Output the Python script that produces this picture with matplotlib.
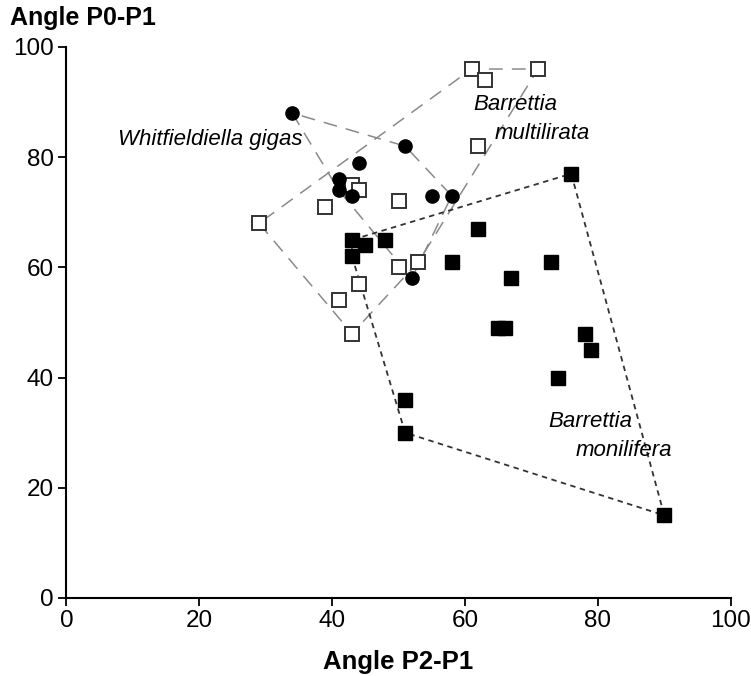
import numpy as np
import matplotlib.pyplot as plt

plt.rcParams['font.family'] = ['Liberation Sans', 'DejaVu Sans']

# Whitfieldiella gigas (filled circles)
gigas_x = [34, 51, 44, 41, 41, 43, 55, 58, 52]
gigas_y = [88, 82, 79, 76, 74, 73, 73, 73, 58]

# Barrettia multilirata (open squares)
multi_x = [61, 63, 71, 62, 43, 44, 50, 39, 29, 50, 53, 44, 41, 43]
multi_y = [96, 94, 96, 82, 75, 74, 72, 71, 68, 60, 61, 57, 54, 48]

# Barrettia monilifera (filled squares)
moni_x = [76, 62, 43, 45, 48, 43, 58, 67, 73, 65, 66, 78, 79, 74, 51, 51, 90]
moni_y = [77, 67, 65, 64, 65, 62, 61, 58, 61, 49, 49, 48, 45, 40, 36, 30, 15]

ticks = [0, 20, 40, 60, 80, 100]


def hull(xs, ys):
    # monotone chain convex hull, returned closed
    pts = sorted(set(zip(xs, ys)))

    def cross(o, a, b):
        return (a[0] - o[0]) * (b[1] - o[1]) - (a[1] - o[1]) * (b[0] - o[0])

    lower, upper = [], []
    for p in pts:
        while len(lower) >= 2 and cross(lower[-2], lower[-1], p) <= 0:
            lower.pop()
        lower.append(p)
    for p in reversed(pts):
        while len(upper) >= 2 and cross(upper[-2], upper[-1], p) <= 0:
            upper.pop()
        upper.append(p)
    h = lower[:-1] + upper[:-1]
    h.append(h[0])
    return np.array(h)


fig = plt.figure(figsize=(7.51, 6.76), dpi=100)
ax = fig.add_axes([0.0883, 0.1154, 0.8847, 0.8151])

# hulls
h = hull(gigas_x, gigas_y)
ax.plot(h[:, 0], h[:, 1], color='#8a8a8a', lw=1.1, dashes=(9, 6), zorder=1)
h = hull(multi_x, multi_y)
ax.plot(h[:, 0], h[:, 1], color='#8a8a8a', lw=1.1, dashes=(9, 6), zorder=1)
h = hull(moni_x, moni_y)
ax.plot(h[:, 0], h[:, 1], color='#333333', lw=1.3, dashes=(3, 2.5), zorder=1)

# points
ax.plot(multi_x, multi_y, 's', ms=9.5, mfc='white', mec='#333333', mew=1.4, zorder=3)
ax.plot(gigas_x, gigas_y, 'o', ms=9.5, color='black', zorder=4)
ax.plot(moni_x, moni_y, 's', ms=10, color='black', zorder=4)

# species labels
ax.text(7.8, 82.2, 'Whitfieldiella gigas', style='italic', fontsize=16, va='baseline')
ax.text(61.3, 88.5, 'Barrettia', style='italic', fontsize=16, va='baseline')
ax.text(64.5, 83.3, 'multilirata', style='italic', fontsize=16, va='baseline')
ax.text(72.5, 31.0, 'Barrettia', style='italic', fontsize=16, va='baseline')
ax.text(76.7, 25.8, 'monilifera', style='italic', fontsize=16, va='baseline')

ax.set_xlim(0, 100)
ax.set_ylim(0, 100)
ax.set_xticks(ticks)
ax.set_yticks(ticks)
ax.tick_params(labelsize=17.5, length=6, width=1.3, direction='out', pad=3)
for s in ['top', 'right']:
    ax.spines[s].set_visible(False)
for s in ['left', 'bottom']:
    ax.spines[s].set_linewidth(1.5)

fig.text(0.013, 1 - 25 / 676, 'Angle P0-P1', fontsize=18, fontweight='bold', va='baseline')
fig.text(0.5306, 1 - 669 / 676, 'Angle P2-P1', fontsize=18.5, fontweight='bold', ha='center', va='baseline')

fig.savefig('out.png', dpi=100)
